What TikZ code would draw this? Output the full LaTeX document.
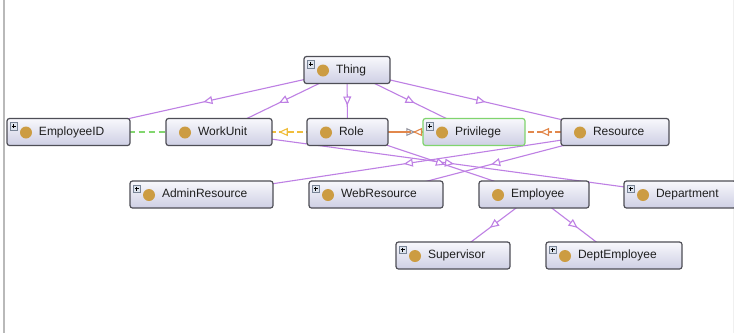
\documentclass[tikz,border=0pt]{standalone}
\usepackage{fontspec}
\setmainfont{Liberation Sans}
\usetikzlibrary{arrows.meta,decorations.markings,backgrounds,calc}

\definecolor{isacol}{RGB}{190,128,228}
\definecolor{boxline}{RGB}{78,78,86}
\definecolor{boxtop}{RGB}{248,248,252}
\definecolor{boxbot}{RGB}{206,207,228}
\definecolor{goldball}{RGB}{204,156,66}
\definecolor{selgreen}{RGB}{128,212,110}
\definecolor{disjgreen}{RGB}{130,214,110}
\definecolor{yellowrel}{RGB}{240,190,60}
\definecolor{orangerel}{RGB}{226,136,76}
\definecolor{graytip}{RGB}{150,150,160}
\definecolor{plusfill}{RGB}{222,228,238}
\definecolor{plusline}{RGB}{120,132,150}

\tikzset{
  % class box: gradient body, gold ball on the left, label after it
  cls/.style={rectangle, rounded corners=2.5pt, draw=boxline, line width=1.2pt,
    top color=boxtop, bottom color=boxbot,
    minimum height=27pt, inner xsep=4pt, inner ysep=0pt,
    text height=9pt, text depth=3pt, align=left, text=black!88,
    font=\fontsize{12}{14}\selectfont,
    execute at begin node={\hspace*{28pt}},
    path picture={
      \fill[goldball] ($(path picture bounding box.west)+(19,0.5)$) circle (6pt);
    }},
  % class box that also carries the small expand marker
  clsx/.style={cls,
    path picture={
      \fill[goldball] ($(path picture bounding box.west)+(19,0.5)$) circle (6pt);
      \coordinate (ppnw) at (path picture bounding box.north west);
      \draw[plusline, fill=plusfill, line width=0.5pt, rounded corners=0pt]
        ($(ppnw)+(3,4)$) rectangle ++(7.5,7.5);
      \draw[black, line width=0.7pt, rounded corners=0pt]
        ($(ppnw)+(4.6,7.75)$) -- ++(4.3,0)
        ($(ppnw)+(6.75,5.6)$) -- ++(0,4.3);
    }},
  % open triangle placed along a connector
  tri/.style 2 args={postaction={decorate}, decoration={markings,
    mark=at position #1 with {\arrow[xshift=4.5pt]{Triangle[length=9pt,width=8pt,color=#2,fill=white,line width=1.1pt]}}}},
  isa/.style={draw=isacol, line width=1.1pt, tri={0.5}{isacol}},
  disj/.style={draw=disjgreen, line width=1.2pt, dash pattern=on 6pt off 4pt},
}

\begin{document}
\begin{tikzpicture}[x=1pt,y=-1pt]
\useasboundingbox (0,0) rectangle (734,333);
\clip (0,0) rectangle (734,333);

% classes
\node[clsx, minimum width=86pt,  text width=78pt]  (thing)      at (347,70)      {Thing};
\node[clsx, minimum width=123pt, text width=115pt] (empid)      at (68.5,132)    {EmployeeID};
\node[cls,  minimum width=106pt, text width=98pt]  (workunit)   at (219,132)     {WorkUnit};
\node[cls,  minimum width=81pt,  text width=73pt]  (role)       at (347.5,132)   {Role};
\node[clsx, minimum width=102pt, text width=94pt, draw=selgreen] (privilege) at (474,132) {Privilege};
\node[cls,  minimum width=108pt, text width=100pt] (resource)   at (615,132)     {Resource};
\node[clsx, minimum width=143pt, text width=135pt] (admin)      at (201.5,194.5) {AdminResource};
\node[clsx, minimum width=134pt, text width=126pt] (webres)     at (376,194.5)   {WebResource};
\node[cls,  minimum width=110pt, text width=102pt] (employee)   at (534,194.5)   {Employee};
\node[clsx, minimum width=112pt, text width=104pt] (department) at (680,194.5)   {Department};
\node[clsx, minimum width=114pt, text width=106pt] (supervisor) at (453,255.5)   {Supervisor};
\node[clsx, minimum width=136pt, text width=128pt] (deptemp)    at (614,255.5)   {DeptEmployee};

\begin{scope}[on background layer]
  \fill[white] (0,0) rectangle (734,333);
  % panel edges
  \draw[gray!55, line width=1.5pt] (4,0) -- (4,333);
  \draw[gray!12, line width=1pt] (733.5,0) -- (733.5,333);

  % subclass links
  \draw[isa] (thing.center) -- (empid.center);
  \draw[isa] (thing.center) -- (workunit.center);
  \draw[isa] (thing.center) -- (role.center);
  \draw[isa] (thing.center) -- (privilege.center);
  \draw[isa] (thing.center) -- (resource.center);
  \draw[isa] (resource.center) -- (admin.center);
  \draw[isa] (resource.center) -- (webres.center);
  \draw[isa] (workunit.center) -- (department.center);
  \draw[isa] (role.center) -- (employee.center);
  \draw[isa] (employee.center) -- (supervisor.center);
  \draw[isa] (employee.center) -- (deptemp.center);

  % other relations
  \draw[disj] (empid.center) -- (workunit.center);
  \draw[draw=yellowrel, line width=1.2pt, dash pattern=on 6pt off 3pt, tri={0.5}{yellowrel}]
    (role.center) -- (workunit.center);
  \draw[draw=orangerel, line width=1.2pt, dash pattern=on 6pt off 3pt, tri={0.5}{graytip}]
    (role.center) -- (privilege.center);
  \draw[draw=orangerel, line width=1.2pt, dash pattern=on 6pt off 3pt, tri={0.4466}{orangerel}]
    (privilege.center) -- (role.center);
  \draw[draw=orangerel, line width=1.2pt, dash pattern=on 6pt off 3pt, tri={0.5}{orangerel}]
    (resource.center) -- (privilege.center);
\end{scope}
\end{tikzpicture}
\end{document}
